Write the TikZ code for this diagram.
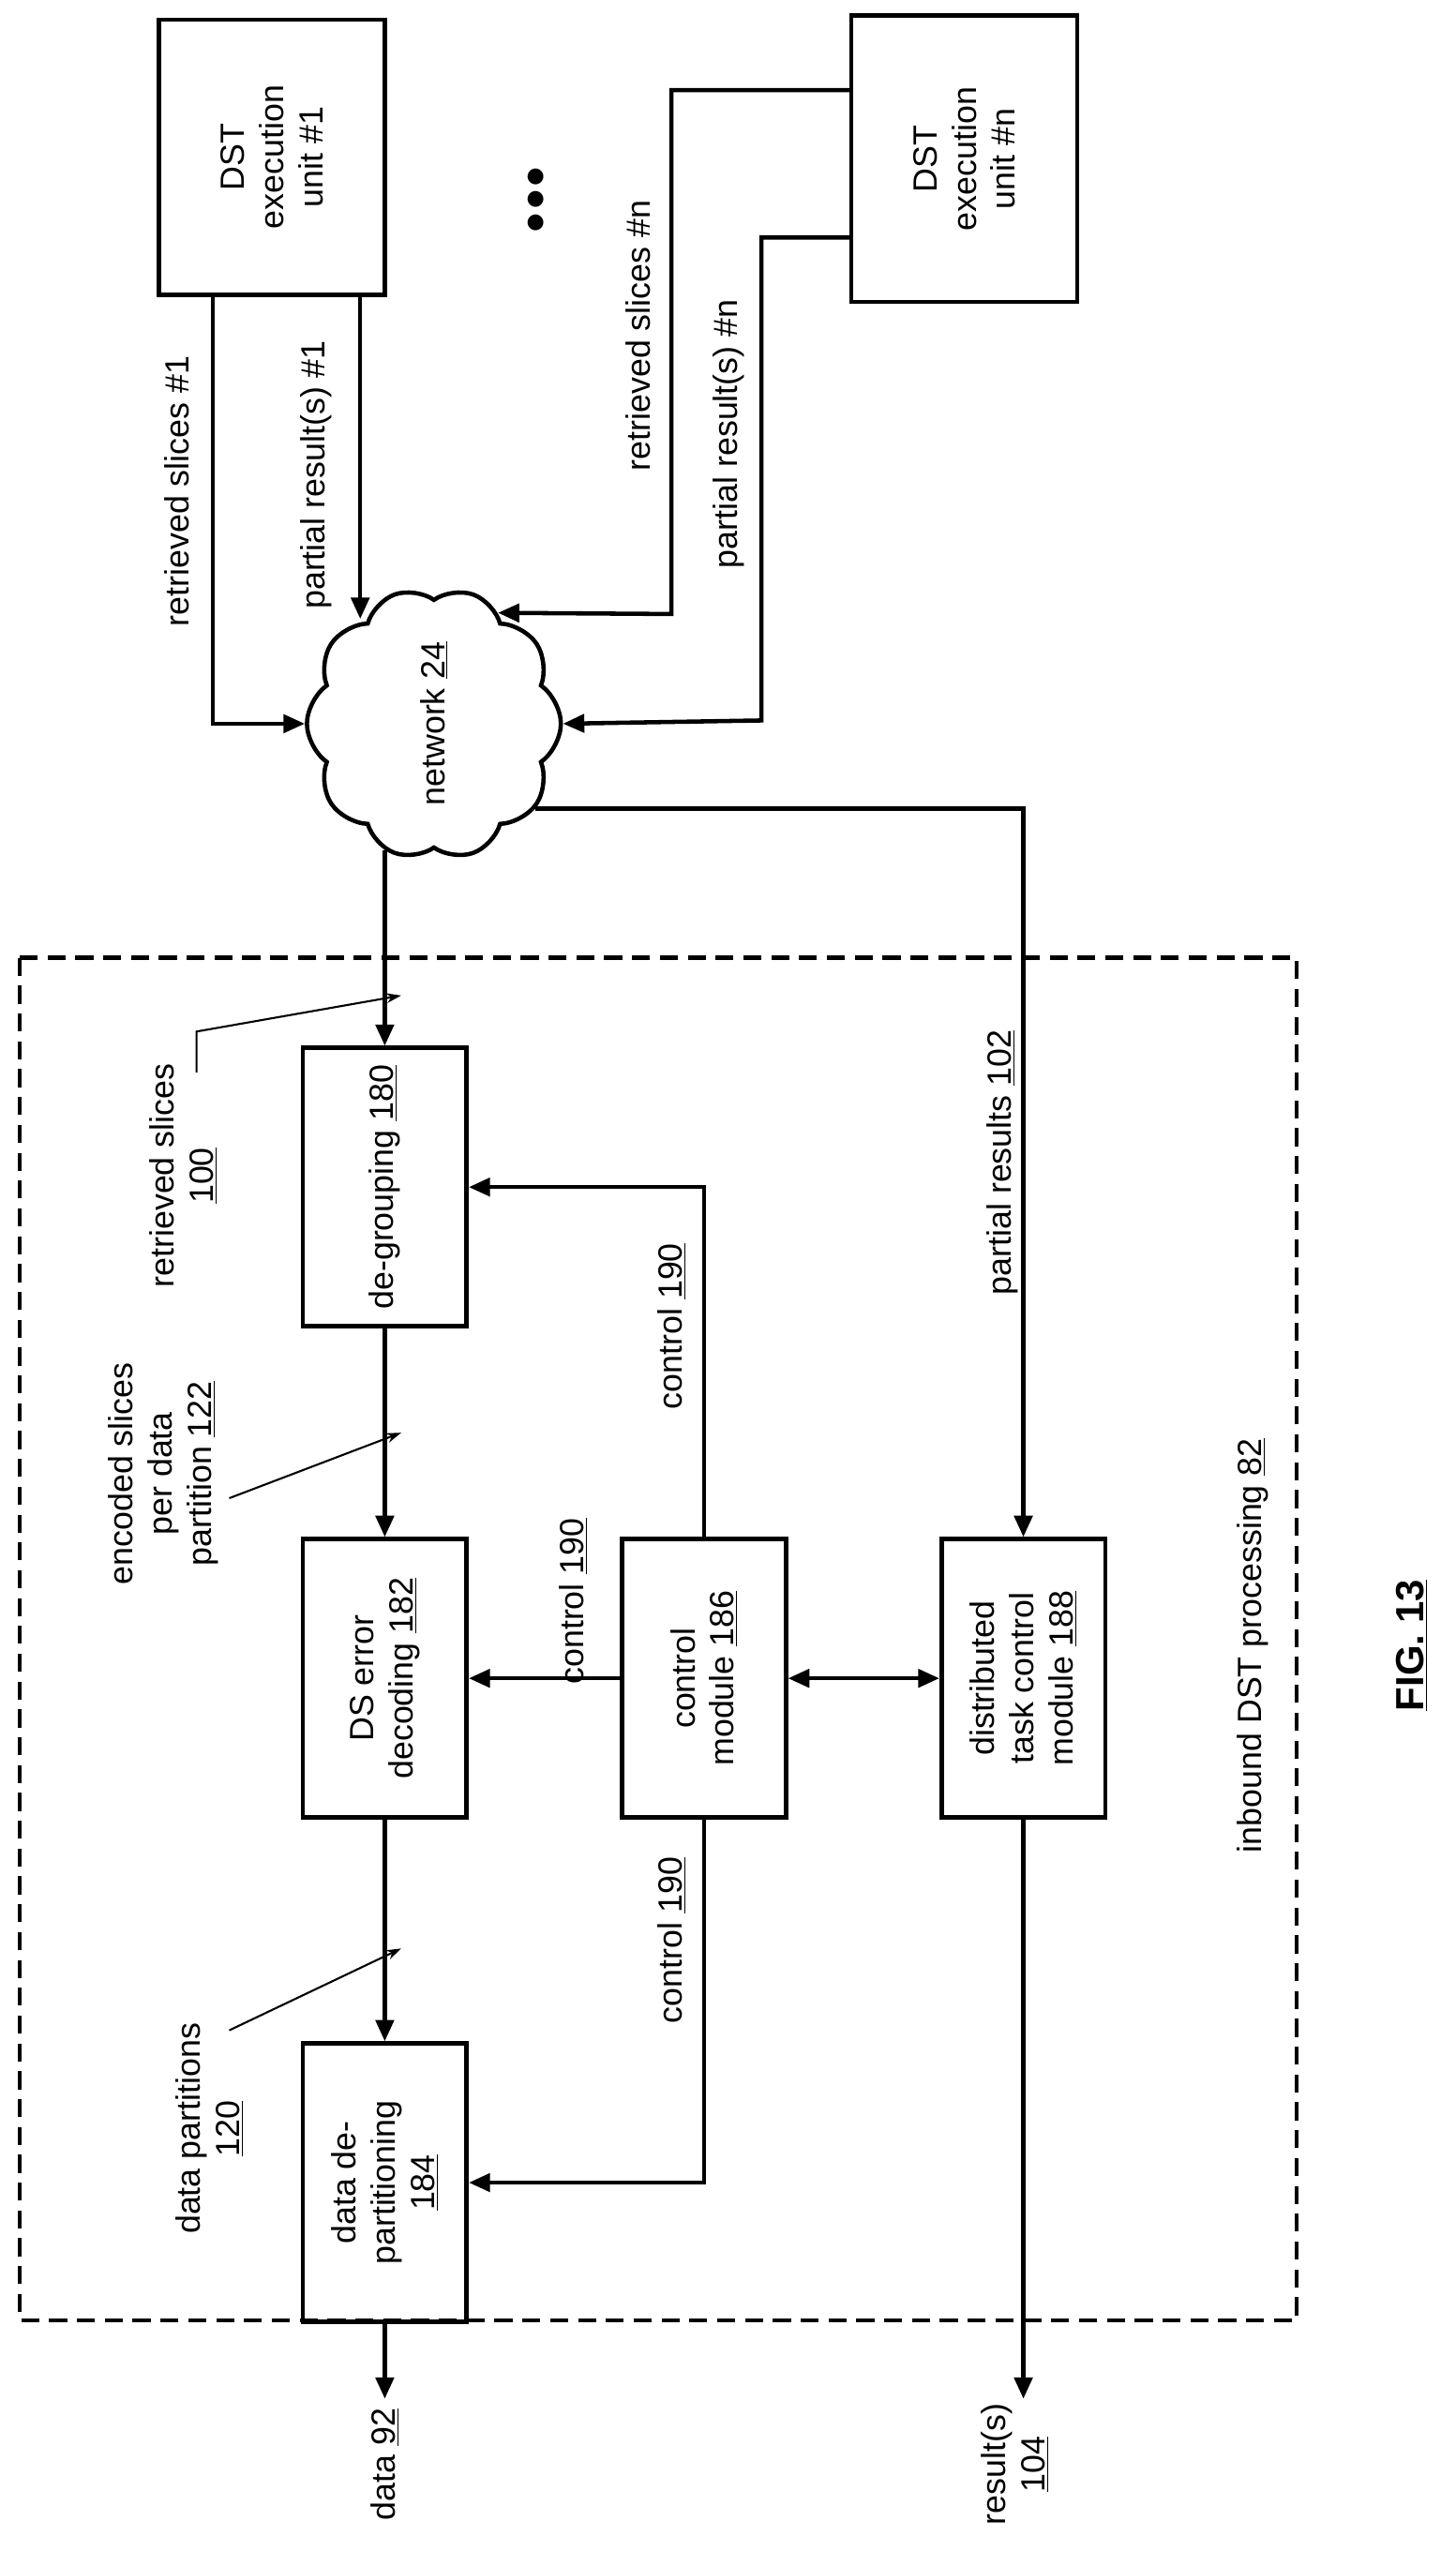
\documentclass[tikz,border=0pt]{standalone}
\usepackage{fontspec}
\setmainfont{Liberation Sans}
\usetikzlibrary{shapes.symbols,arrows.meta}
\newcommand{\un}[1]{\underline{#1}}

\begin{document}
\begin{tikzpicture}[x=1pt, y=-1pt, line width=2.6pt,
    font=\fontsize{20.5}{24}\selectfont,
    box/.style={draw, rotate=90, align=center, minimum width=170, minimum height=100, inner sep=2pt},
    lbl/.style={rotate=90, align=center},
    arr/.style={-{Triangle[length=13pt,width=11pt]}},
    darr/.style={{Triangle[length=13pt,width=11pt]}-{Triangle[length=13pt,width=11pt]}},
    thin arr/.style={line width=1.2pt,-{Stealth[length=9pt,width=6pt]}}
    ]
    \useasboundingbox (0,0) rectangle (889,1558);
    \draw[dash pattern=on 11pt off 6pt] (12,585) rectangle (792,1417);
    % processing blocks
    \node[box] (deg)  at (235,725)  {de-grouping \un{180}};
    \node[box] (dsed) at (235,1025) {DS error\\decoding \un{182}};
    \node[box] (ddp)  at (235,1333) {data de-\\partitioning\\\un{184}};
    \node[box] (ctl)  at (430,1025) {control\\module \un{186}};
    \node[box] (dtc)  at (625,1025) {distributed\\task control\\module \un{188}};
    % execution units
    \node[draw, rotate=90, align=center, minimum width=168, minimum height=138] (ex1) at (166,96) {DST\\execution\\unit \#1};
    \node[draw, rotate=90, align=center, minimum width=175, minimum height=138] (exn) at (589,97) {DST\\execution\\unit \#n};
    \node[rotate=90, font=\fontsize{44}{44}\selectfont] (dots) at (328,122) {$\bullet\!\bullet\!\bullet$};
    \node[cloud, draw, cloud puffs=10, cloud puff arc=110, aspect=1.1, rotate=90, minimum width=150, minimum height=130] (net) at (265,442) {network \un{24}};
    % outputs
    \coordinate (dout) at (235,1465);
    \coordinate (rout) at (625,1465);
    \node[lbl] (data) at (235,1505) {data \un{92}};
    \node[lbl] (res) at (620,1505) {result(s)\\\un{104}};
    % main flow
    \draw[arr] (deg.east |- net.west) -- (deg.east);
    \draw[arr] (deg.west) -- (dsed.east);
    \draw[arr] (dsed.west) -- (ddp.east);
    \draw[arr] (ddp.west) -- (dout);
    \draw[arr] (dtc.west) -- (rout);
    \draw[arr] (ctl.north) -- (dsed.south);
    \draw[arr] (ctl.east) |- (deg.south);
    \draw[arr] (ctl.west) |- (ddp.south);
    \draw[darr] (ctl.south) -- (dtc.north);
    \draw[arr] (net.-130) -- (net.-130 -| dtc.center) -- (dtc.east);
    % execution unit links
    \draw[arr] (ex1.west -| 130,0) |- (net.north);
    \draw[arr] (ex1.west -| 220,0) -- (220,378);
    \draw[arr] (exn.north |- 0,55) -- (410,55) -- (410,375) -- (net.-30);
    \draw[arr] (exn.north |- 0,145) -- (465,145) -- (465,440) -- (net.south);
    % labels
    \node[lbl] (l1) at (108,300) {retrieved slices \#1};
    \node[lbl] (l2) at (193,290) {partial result(s) \#1};
    \node[lbl] (l3) at (390,205) {retrieved slices \#n};
    \node[lbl] (l4) at (445,265) {partial result(s) \#n};
    \node[lbl] (l5) at (612,710) {partial results \un{102}};
    \node[lbl] (c1) at (410,810) {control \un{190}};
    \node[lbl] (c2) at (350,978) {control \un{190}};
    \node[lbl] (c3) at (410,1185) {control \un{190}};
    \node[lbl] (a1) at (112,718) {retrieved slices\\\un{100}};
    \node[lbl] (a2) at (100,900) {encoded slices\\per data\\partition \un{122}};
    \node[lbl] (a3) at (128,1300) {data partitions\\\un{120}};
    \node[lbl] (ibd) at (765,1005) {inbound DST processing \un{82}};
    \node[lbl, font=\fontsize{24}{28}\selectfont\bfseries] (fig) at (862,1005) {\underline{FIG. 13}};
    % pointers
    \draw[thin arr] (120,655) -- (120,630) -- (245,608);
    \draw[thin arr] (140,915) -- (245,875);
    \draw[thin arr] (140,1240) -- (245,1190);
\end{tikzpicture}
\end{document}
